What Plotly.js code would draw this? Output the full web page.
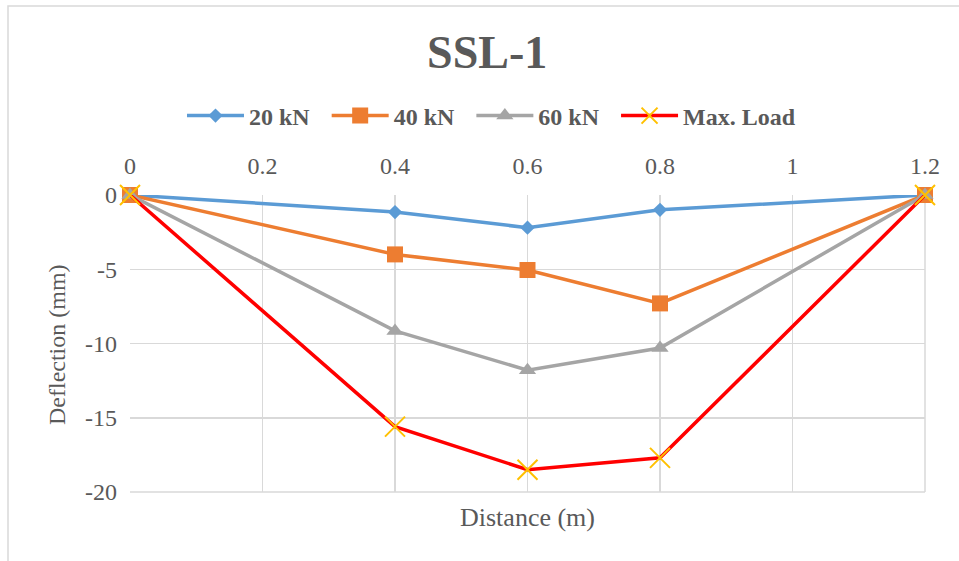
<!DOCTYPE html>
<html>
<head>
<meta charset="utf-8">
<script src="https://cdn.plot.ly/plotly-3.0.1.min.js"></script>
<style>html,body{margin:0;padding:0;background:#fff;}#chart{width:959px;height:561px;}</style>
</head>
<body>
<div id="chart"></div>
<script>
const distance = [0, 0.4, 0.6, 0.8, 1.2];
const seriesNames = ["20 kN", "40 kN", "60 kN", "Max. Load"];
const load20 = [0, -1.15, -2.2, -1.0, 0];
const load40 = [0, -4.0, -5.05, -7.3, 0];
const load60 = [0, -9.15, -11.8, -10.3, 0];
const loadMax = [0, -15.6, -18.5, -17.7, 0];
const xTicks = [0, 0.2, 0.4, 0.6, 0.8, 1, 1.2];
const yTicks = [0, -5, -10, -15, -20];

const font = "'Liberation Serif', 'Times New Roman', serif";
const pad = "\u00a0\u00a0";
const traces = [
  {x: distance, y: load20, name: seriesNames[0] + pad, mode: "lines+markers", cliponaxis: false,
   line: {color: "#5b9bd5", width: 3.5}, marker: {symbol: "diamond", size: 11, color: "#5b9bd5"}},
  {x: distance, y: load40, name: seriesNames[1] + pad, mode: "lines+markers", cliponaxis: false,
   line: {color: "#ed7d31", width: 3.5}, marker: {symbol: "square", size: 16, color: "#ed7d31"}},
  {x: distance, y: load60, name: seriesNames[2] + pad, mode: "lines+markers", cliponaxis: false,
   line: {color: "#a5a5a5", width: 3.5}, marker: {symbol: "triangle-up", size: 15, color: "#a5a5a5"}},
  {x: distance, y: loadMax, name: seriesNames[3], mode: "lines+markers", cliponaxis: false,
   line: {color: "#ff0000", width: 3.5}, marker: {symbol: "x-thin", size: 20, line: {color: "#ffc000", width: 2}, color: "#ffc000"}}
];

const layout = {
  width: 959, height: 561,
  margin: {l: 130, r: 34, t: 195, b: 69},
  paper_bgcolor: "#ffffff", plot_bgcolor: "#ffffff",
  font: {family: font, color: "#595959", size: 24},
  title: {text: "<b>SSL-1</b>", font: {family: font, size: 46, color: "#595959"},
          x: 0.508, xref: "container", xanchor: "center", y: 1 - 52/561, yref: "container", yanchor: "middle"},
  showlegend: true,
  legend: {orientation: "h", x: 0.5125, xref: "container", xanchor: "center",
           y: 1 - 116/561, yref: "container", yanchor: "middle",
           font: {family: font, size: 24, color: "#595959", weight: "bold"},
           itemwidth: 57, tracegroupgap: 0, bgcolor: "rgba(0,0,0,0)"},
  xaxis: {side: "top", range: [0, 1.2], tickvals: xTicks, ticktext: xTicks.map(String),
          showgrid: true, gridcolor: "#d9d9d9", gridwidth: 1.5, zeroline: false,
          showline: false, ticks: "", ticklabelstandoff: 15,
          tickfont: {family: font, size: 24, color: "#595959"},
          title: {text: ""}},
  yaxis: {range: [-20, 0], tickvals: yTicks, ticktext: yTicks.map(String),
          showgrid: true, gridcolor: "#d9d9d9", gridwidth: 1.5, zeroline: false,
          showline: false, ticks: "", ticklabelstandoff: 12,
          tickfont: {family: font, size: 24, color: "#595959"},
          title: {text: ""}},
  annotations: [
    {text: "Distance (m)", xref: "paper", yref: "paper", x: 0.5, y: -(517 - 492)/297,
     xanchor: "center", yanchor: "middle", showarrow: false,
     font: {family: font, size: 26, color: "#595959"}},
    {text: "Deflection (mm)", xref: "paper", yref: "paper", x: (57 - 130)/795, y: (492 - 345)/297,
     xanchor: "center", yanchor: "middle", showarrow: false, textangle: -90,
     font: {family: font, size: 24, color: "#595959"}}
  ],
  shapes: [
    {type: "line", xref: "paper", yref: "paper", x0: 0, x1: 1, y0: 0, y1: 0, line: {color: "#d9d9d9", width: 1.5}, layer: "below"},
    {type: "line", xref: "paper", yref: "paper", x0: 1, x1: 1, y0: 0, y1: 1, line: {color: "#d9d9d9", width: 1.5}, layer: "below"},
    {type: "rect", xref: "paper", yref: "paper", x0: -122/795, x1: 1 + 40/795, y0: -80/297, y1: 1 + 189/297,
     line: {color: "#d9d9d9", width: 1.5}, layer: "below"}
  ]
};

Plotly.newPlot("chart", traces, layout, {displayModeBar: false, staticPlot: true});
</script>
</body>
</html>
